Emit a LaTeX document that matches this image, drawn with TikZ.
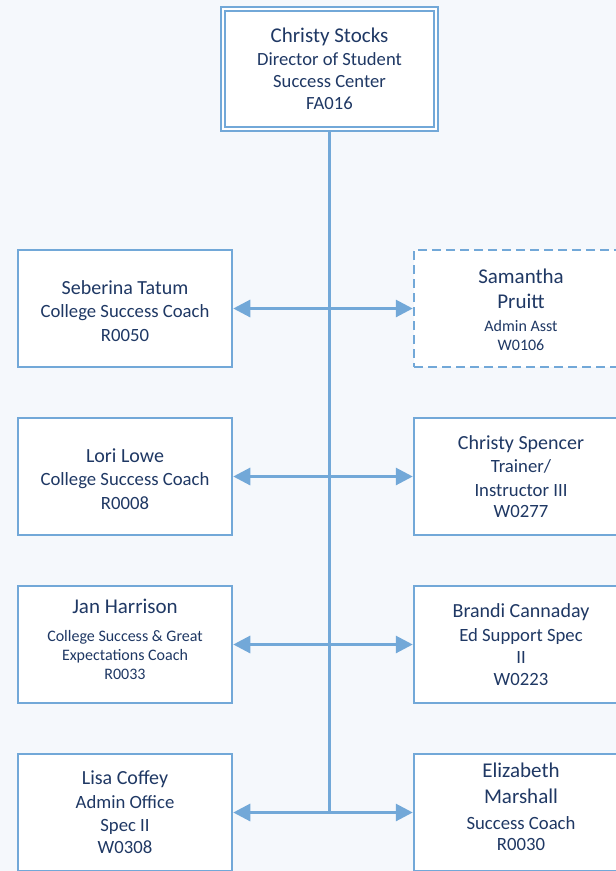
\documentclass[tikz,border=0pt]{standalone}
\usepackage{fontspec}
\setmainfont{Carlito}
\usetikzlibrary{arrows.meta}
\definecolor{bg}{HTML}{F5F8FC}
\definecolor{edge}{HTML}{72A8D8}
\definecolor{ink}{HTML}{1F3864}
\newcommand\nmf{\fontsize{20}{24}\selectfont}
\newcommand\nmbf{\fontsize{21}{25}\selectfont}
\newcommand\bdf{\fontsize{18.7}{23.5}\selectfont}
\newcommand\smf{\fontsize{16}{19.5}\selectfont}
\newcommand\padtop[2]{\raisebox{0pt}[\dimexpr\height+#1\relax]{#2}}
\newcommand\padbot[1]{\rule[-#1]{0pt}{0pt}}
\begin{document}
\begin{tikzpicture}[x=1pt,y=-1pt,
  box/.style={draw=edge, line width=2.5pt, fill=white, minimum width=214pt,
    minimum height=117pt, align=center, text=ink, inner sep=0pt, font=\bdf},
  vacant/.style={box, dash pattern=on 9pt off 5pt},
  topbox/.style={box, line width=2pt, double=white, double distance=2pt,
    minimum width=213pt, minimum height=120pt, font=\fontsize{18.6}{22.3}\selectfont},
  trunk/.style={draw=edge, line width=3.5pt},
  link/.style={draw=edge, line width=3pt,
    {Triangle[length=17pt,width=17pt]}-{Triangle[length=17pt,width=17pt]}}
]
\useasboundingbox (0,0) rectangle (616,871);
\fill[bg] (0,0) rectangle (616,871);

\node[topbox] (top) at (329.5,69) {{\nmbf Christy Stocks}\\Director of Student\\Success Center\\FA016};

\node[box] (l1) at (125,308.5) {\padtop{5pt}{\nmf Seberina Tatum}\\College Success Coach\\R0050};
\node[vacant] (r1) at (521,308.5) {\padtop{3pt}{\nmbf Samantha}\\[1.5pt]{\nmbf Pruitt}\\[-0.5pt]{\smf Admin Asst}\\[-4.5pt]{\smf W0106}};

\node[box] (l2) at (125,476.5) {\padtop{5pt}{\nmf Lori Lowe}\\College Success Coach\\R0008};
\node[box] (r2) at (521,476.5) {{\nmf Christy Spencer}\\Trainer/\\Instructor III\\[-2.5pt]W0277};

\node[box] (l3) at (125,644.5) {{\nmbf Jan Harrison}\\[4.5pt]{\smf College Success \& Great}\\[-4.5pt]{\smf Expectations Coach}\\[-4.5pt]{\smf R0033}\padbot{10pt}};
\node[box] (r3) at (521,644.5) {{\nmf Brandi Cannaday}\\Ed Support Spec\\[-1.5pt]II\\[-1.5pt]W0223};

\node[box] (l4) at (125,812.5) {{\nmf Lisa Coffey}\\Admin Office\\Spec II\\[-1.5pt]W0308};
\node[box] (r4) at (521,812.5) {{\nmbf Elizabeth}\\[2.5pt]{\nmbf Marshall}\\[2.5pt]Success Coach\\[-2.5pt]R0030\padbot{12pt}};

\coordinate (trunkend) at (top.south |- l4.east);
\draw[trunk] (top.south) -- (trunkend);
\draw[link] (l1.east) -- (r1.west);
\draw[link] (l2.east) -- (r2.west);
\draw[link] (l3.east) -- (r3.west);
\draw[link] (l4.east) -- (r4.west);
\end{tikzpicture}
\end{document}
